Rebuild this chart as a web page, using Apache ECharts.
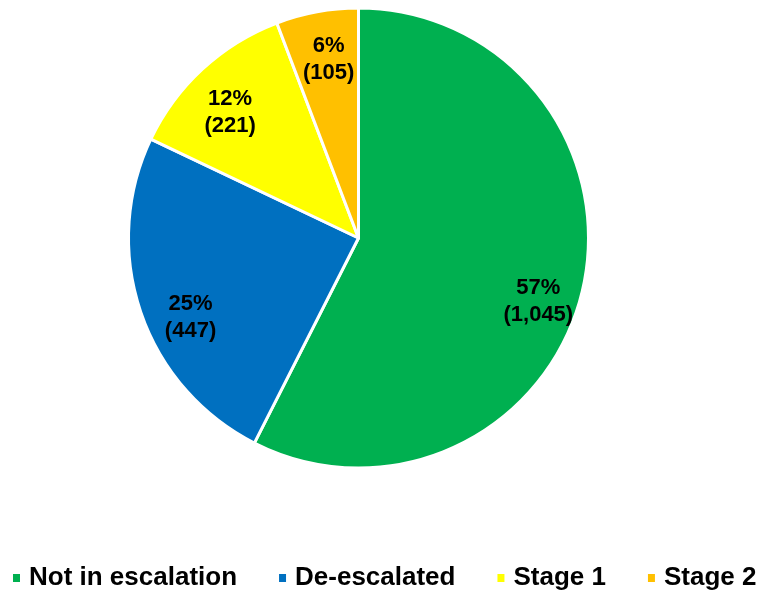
<!DOCTYPE html>
<html>
<head>
<meta charset="utf-8">
<script src="https://cdn.jsdelivr.net/npm/echarts@6/dist/echarts.min.js"></script>
<style>html,body{margin:0;padding:0;background:#fff;}#c{width:760px;height:590px;}</style>
</head>
<body>
<div id="c"></div>
<script>
const categories = ['Not in escalation', 'De-escalated', 'Stage 1', 'Stage 2'];
const counts = [1045, 447, 221, 105];
const colors = ['#00B050', '#0070C0', '#FFFF00', '#FFC000'];

const labelOffsets = [[-3, 20], [10, 19], [-1, 13], [4, 6]];
const chart = echarts.init(document.getElementById('c'));
const data = categories.map((n, i) => ({ name: n, value: counts[i], itemStyle: { color: colors[i] } }));
const overlay = categories.map((n, i) => ({ name: n, value: counts[i], label: { offset: labelOffsets[i] } }));
const font = 'Liberation Sans, Arial, sans-serif';

chart.setOption({
  animation: false,
  legend: {
    data: categories,
    left: 11,
    top: 565,
    width: 760,
    padding: 0,
    itemWidth: 9,
    itemHeight: 10,
    itemGap: 40,
    icon: 'rect',
    textStyle: { fontSize: 26, fontWeight: 'bold', color: '#000', fontFamily: font, padding: [0, 0, 0, 3] }
  },
  series: [
    {
      type: 'pie',
      center: [358.5, 238],
      radius: [0, 230],
      startAngle: 90,
      clockwise: true,
      data: data,
      label: { show: false },
      labelLine: { show: false },
      itemStyle: { borderColor: '#fff', borderWidth: 3 },
      emphasis: { disabled: true }
    },
    {
      type: 'pie',
      center: [358.5, 238],
      radius: [140, 230],
      startAngle: 90,
      clockwise: true,
      silent: true,
      data: overlay,
      itemStyle: { color: 'rgba(0,0,0,0)', borderWidth: 0 },
      labelLine: { show: false },
      emphasis: { disabled: true },
      label: {
        show: true,
        position: 'inside',
        color: '#000',
        fontSize: 22,
        fontWeight: 'bold',
        fontFamily: font,
        lineHeight: 27,
        align: 'center',
        formatter: function (p) {
          return Math.round(p.percent) + '%\n(' + p.value.toLocaleString('en-US') + ')';
        }
      }
    }
  ]
});
</script>
</body>
</html>
